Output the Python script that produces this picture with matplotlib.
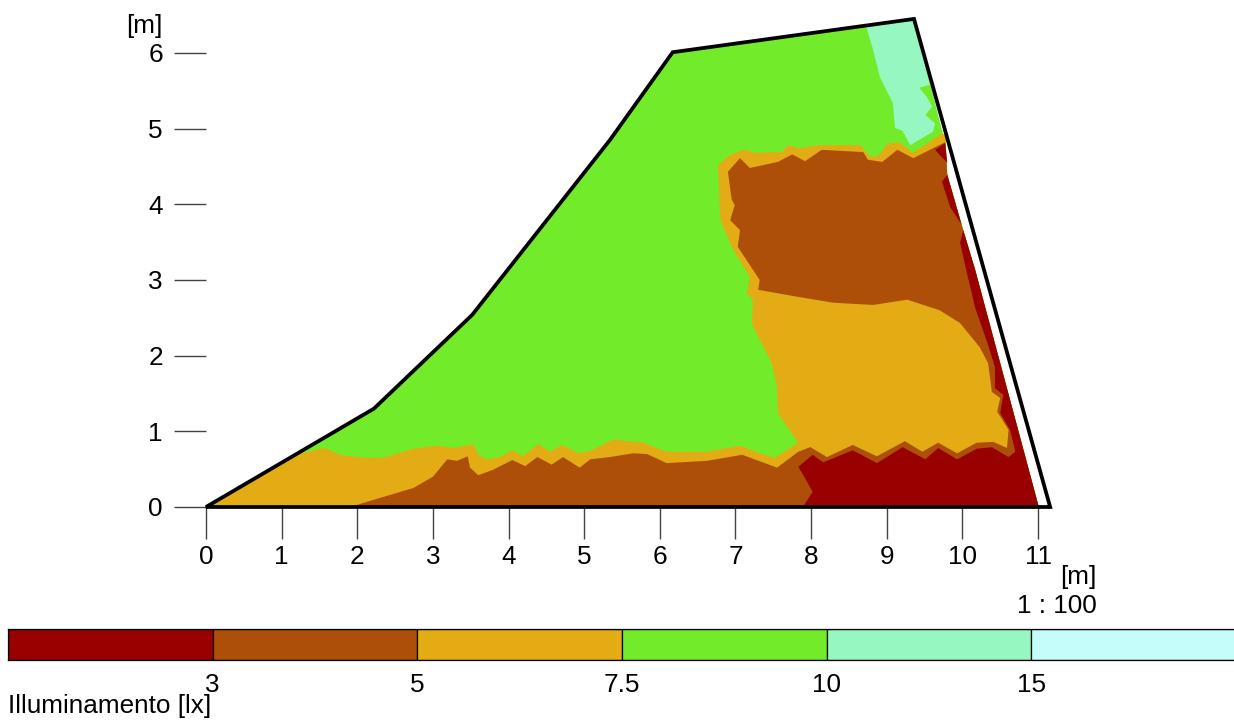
import matplotlib
matplotlib.use("Agg")
import matplotlib.pyplot as plt

plt.rcParams['font.family'] = ['Liberation Sans', 'DejaVu Sans']

# Colours of illuminance classes
C_RED, C_BROWN, C_GOLD, C_GREEN, C_AQUA, C_PALE = '#990000', '#ae4f09', '#e3ac14', '#72ec2a', '#96f8c0', '#c4fdf9'

# Legend
LEVEL_LABELS = ['3', '5', '7.5', '10', '15']
LEVEL_COLORS = [C_RED, C_BROWN, C_GOLD, C_GREEN, C_AQUA, C_PALE]

# Room outline (metres)
ROOM = [(0, 0), (2.22, 1.30), (3.52, 2.54), (5.34, 4.85), (6.17, 6.01), (9.36, 6.45), (11.16, 0)]

# Computed area's right limit (metres)
EDGE = [(9.78, 4.78), (9.80, 4.39), (9.99, 3.73), (10.17, 3.13), (11.01, 0)]

# Isolux regions (metres)
GREEN = ROOM[:6] + EDGE

AQUA = [(8.73, 6.34), (8.82, 6.04), (8.91, 5.68), (9.08, 5.34), (9.11, 5.01), (9.21, 4.97), (9.31, 4.78),
        (9.61, 4.96), (9.64, 5.07), (9.51, 5.18), (9.60, 5.29), (9.53, 5.42), (9.43, 5.54), (9.57, 5.58),
        (9.36, 6.45)]

GOLD = [(0, 0), (1.18, 0.69), (1.57, 0.78), (1.77, 0.69), (2.08, 0.65), (2.34, 0.65), (2.74, 0.77), (3.05, 0.81), (3.27, 0.78),
        (3.53, 0.83), (3.60, 0.69), (3.71, 0.63), (3.89, 0.66), (4.05, 0.75), (4.19, 0.67), (4.39, 0.83),
        (4.55, 0.73), (4.71, 0.82), (4.92, 0.71), (5.08, 0.74), (5.38, 0.89), (5.78, 0.85), (6.09, 0.73),
        (6.62, 0.73), (7.06, 0.81), (7.32, 0.71), (7.52, 0.65), (7.83, 0.85), (7.56, 1.24), (7.55, 1.59),
        (7.48, 1.90), (7.22, 2.41), (7.23, 2.74), (7.15, 2.83), (7.19, 3.04), (6.97, 3.40), (6.80, 3.79),
        (6.77, 4.52), (6.93, 4.65), (7.10, 4.72), (7.28, 4.68), (7.62, 4.69), (7.69, 4.78), (7.85, 4.74),
        (8.08, 4.78), (8.65, 4.78), (8.78, 4.63), (8.88, 4.63), (9.02, 4.81), (9.18, 4.81), (9.35, 4.68),
        (9.74, 4.94), (9.80, 4.88)] + EDGE

BROWN_TOP = [(6.90, 4.43), (7.06, 4.61), (7.19, 4.48), (7.56, 4.56), (7.75, 4.66), (7.92, 4.57), (8.14, 4.72),
             (8.69, 4.69), (8.75, 4.59), (8.94, 4.56), (9.14, 4.72), (9.35, 4.61), (9.77, 4.82)] + EDGE + [
             (7.85, 0), (7.79, 0.69), (7.99, 0.79), (8.21, 0.66), (8.55, 0.82), (8.87, 0.67), (9.24, 0.87),
             (9.47, 0.73), (9.68, 0.85), (9.93, 0.71), (10.19, 0.85), (10.41, 0.86), (10.59, 0.78), (10.61, 1.02),
             (10.46, 1.26), (10.50, 1.44), (10.39, 1.52), (10.34, 1.90), (10.23, 2.11), (9.97, 2.43), (9.70, 2.60),
             (9.27, 2.74), (8.82, 2.67), (8.29, 2.70), (7.81, 2.78), (7.30, 2.87), (7.32, 3.00), (7.03, 3.44),
             (7.06, 3.66), (6.93, 3.79), (6.99, 3.99), (6.95, 4.06)]

BROWN_LOW = [(1.90, 0), (2.30, 0.12), (2.74, 0.25), (3.00, 0.40), (3.19, 0.63), (3.32, 0.61), (3.46, 0.67),
             (3.49, 0.52), (3.60, 0.42), (3.79, 0.49), (4.05, 0.62), (4.22, 0.54), (4.38, 0.66), (4.57, 0.56),
             (4.72, 0.66), (4.94, 0.52), (5.08, 0.63), (5.34, 0.66), (5.65, 0.71), (5.83, 0.70), (6.09, 0.58),
             (6.62, 0.61), (7.09, 0.69), (7.55, 0.52), (7.83, 0.73), (7.99, 0.79), (8.25, 0)]

RED_MAIN = [(7.83, 0.53), (8.02, 0.69), (8.16, 0.59), (8.55, 0.75), (8.87, 0.58), (9.21, 0.79), (9.51, 0.63),
            (9.68, 0.78), (9.93, 0.63), (10.19, 0.77), (10.39, 0.79), (10.61, 0.66), (10.70, 0.73), (10.63, 1.02),
            (10.50, 1.24), (10.54, 1.48), (10.43, 1.57), (10.43, 1.85), (10.33, 2.17), (10.17, 2.63), (10.05, 3.13),
            (9.97, 3.49), (10.01, 3.66), (10.17, 3.13), (11.01, 0), (7.89, 0), (8.02, 0.20), (7.88, 0.45)]
RED_MID = [(9.80, 4.39), (9.73, 4.30), (9.84, 3.96), (9.99, 3.73)]
RED_TOP = [(9.64, 4.72), (9.77, 4.81), (9.80, 4.55), (9.70, 4.65)]

REGIONS = [(GREEN, C_GREEN), (AQUA, C_AQUA), (GOLD, C_GOLD), (BROWN_TOP, C_BROWN), (BROWN_LOW, C_BROWN),
           (RED_MAIN, C_RED), (RED_MID, C_RED), (RED_TOP, C_RED)]

W, H = 1234, 720
FS = 18.8
fig = plt.figure(figsize=(W / 100, H / 100), dpi=100, facecolor='white')

# Main plan: the axes span the full canvas, 75.64 px per metre, origin at (206, 507)
ax = fig.add_axes([0, 0, 1, 1])
ax.set_xlim(-206 / 75.64, (W - 206) / 75.64)
ax.set_ylim((507 - H) / 75.67, 507 / 75.67)
ax.patch.set_visible(False)
for name, sp in ax.spines.items():
    sp.set_color('none')
ax.spines['bottom'].set_position(('data', 0))
ax.spines['left'].set_position(('data', 0))
ax.spines['top'].set_visible(False)
ax.spines['right'].set_visible(False)

for poly, col in REGIONS:
    ax.fill(*zip(*poly), facecolor=col, edgecolor='none', zorder=2)
ax.fill(*zip(*ROOM), facecolor='none', edgecolor='black', linewidth=2.7, joinstyle='miter', zorder=3)

ax.set_xticks(range(12))
ax.set_yticks(range(7))
ax.tick_params(axis='both', direction='out', length=23, width=1.0, color='#444444', labelsize=FS)
ax.tick_params(axis='x', pad=4)
ax.tick_params(axis='y', pad=8)

fig.text(163 / W, 1 - 26 / H, '[m]', ha='right', va='center', fontsize=FS)
fig.text(1096 / W, 1 - 577 / H, '[m]', ha='right', va='center', fontsize=FS)
fig.text(1097 / W, 1 - 606 / H, '1 : 100', ha='right', va='center', fontsize=FS)
fig.text(8 / W, 1 - 706 / H, 'Illuminamento [lx]', ha='left', va='center', fontsize=FS)

# Legend band (runs slightly past the canvas edge, as in the source)
cax = fig.add_axes([8 / W, 1 - 660 / H, 1228 / W, 31 / H])
cax.bar(range(len(LEVEL_COLORS)), [1] * len(LEVEL_COLORS), width=1, align='edge',
        color=LEVEL_COLORS, edgecolor='black', linewidth=0.9)
cax.set_xlim(0, len(LEVEL_COLORS))
cax.set_ylim(0, 1)
cax.set_yticks([])
cax.set_xticks(range(1, len(LEVEL_LABELS) + 1))
cax.set_xticklabels(LEVEL_LABELS)
cax.tick_params(axis='x', length=0, pad=9, labelsize=FS)
for sp in cax.spines.values():
    sp.set_linewidth(0.9)

fig.savefig('out.png', dpi=100)
